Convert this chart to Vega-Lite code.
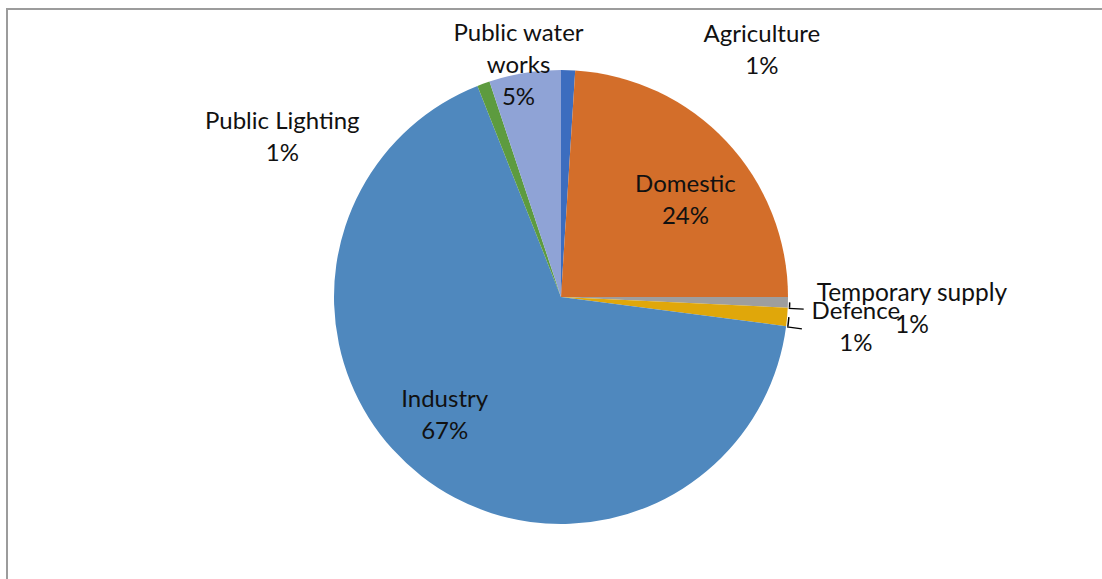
{
  "$schema": "https://vega.github.io/schema/vega-lite/v6.json",
  "width": 1108,
  "height": 576,
  "padding": {"left": 7, "top": 9, "right": -13, "bottom": -6},
  "autosize": {"type": "none"},
  "background": "white",
  "view": {"stroke": "#9c9c9c", "strokeWidth": 2},
  "config": {
    "view": {"stroke": "#9c9c9c", "strokeWidth": 2},
    "text": {"font": "Lato", "fontSize": 24, "lineHeight": 32, "fill": "#111111", "align": "center", "baseline": "middle"}
  },
  "data": {
    "values": [
      {"category": "Agriculture", "share": 0.010},
      {"category": "Domestic", "share": 0.240},
      {"category": "Temporary supply", "share": 0.0075},
      {"category": "Defence", "share": 0.013},
      {"category": "Industry", "share": 0.6695},
      {"category": "Public Lighting", "share": 0.009},
      {"category": "Public water works", "share": 0.051}
    ]
  },
  "transform": [
    {"window": [{"op": "row_number", "as": "k"}]},
    {"stack": "share", "groupby": [], "sort": [{"field": "k", "order": "ascending"}], "as": ["s0", "s1"]},
    {"calculate": "(datum.s0 + datum.s1) / 2", "as": "mid"},
    {"calculate": "datum.category === 'Public water works' ? ['Public water', 'works', format(datum.share, '.0%')] : [datum.category, format(datum.share, '.0%')]", "as": "lines"}
  ],
  "layer": [
    {
      "transform": [{"filter": "datum.k === 1"}],
      "mark": {"type": "rect", "fill": null, "fillOpacity": 0, "stroke": "#9c9c9c", "strokeWidth": 2},
      "encoding": {}
    },
    {
      "mark": {"type": "arc", "outerRadius": 227},
      "encoding": {
        "theta": {"field": "s0", "type": "quantitative", "scale": {"domain": [0, 1]}},
        "theta2": {"field": "s1"},
        "color": {
          "field": "category",
          "type": "nominal",
          "legend": null,
          "scale": {
            "domain": ["Agriculture", "Domestic", "Temporary supply", "Defence", "Industry", "Public Lighting", "Public water works"],
            "range": ["#3c6dbf", "#d36e2a", "#9e9e9e", "#e0a70a", "#4f88be", "#5d9b3f", "#8fa3d6"]
          }
        }
      }
    },
    {
      "transform": [{"filter": "datum.category === 'Temporary supply' || datum.category === 'Defence'"}],
      "mark": {"type": "arc", "innerRadius": 228, "outerRadius": 243, "theta2Offset": 0.0055, "fill": "#000000"},
      "encoding": {
        "theta": {"field": "s1", "type": "quantitative"},
        "theta2": {"field": "s1"}
      }
    },
    {
      "transform": [{"filter": "datum.category === 'Temporary supply' || datum.category === 'Defence'"}],
      "mark": {"type": "arc", "innerRadius": 228, "outerRadius": 229.5, "fill": "#000000"},
      "encoding": {
        "theta": {"field": "mid", "type": "quantitative"},
        "theta2": {"field": "s1"}
      }
    },
    {
      "transform": [{"filter": "datum.category === 'Domestic'"}],
      "mark": {"type": "text", "radius": 157, "dx": 10, "dy": -5},
      "encoding": {"theta": {"field": "mid", "type": "quantitative"}, "text": {"field": "lines"}}
    },
    {
      "transform": [{"filter": "datum.category === 'Industry'"}],
      "mark": {"type": "text", "radius": 165, "dx": -15, "dy": -27},
      "encoding": {"theta": {"field": "mid", "type": "quantitative"}, "text": {"field": "lines"}}
    },
    {
      "transform": [{"filter": "datum.category === 'Agriculture'"}],
      "mark": {"type": "text", "radius": 252, "dx": 193, "dy": -10},
      "encoding": {"theta": {"field": "mid", "type": "quantitative"}, "text": {"field": "lines"}}
    },
    {
      "transform": [{"filter": "datum.category === 'Public water works'"}],
      "mark": {"type": "text", "radius": 235, "dx": -5, "dy": -31},
      "encoding": {"theta": {"field": "mid", "type": "quantitative"}, "text": {"field": "lines"}}
    },
    {
      "transform": [{"filter": "datum.category === 'Public Lighting'"}],
      "mark": {"type": "text", "radius": 245, "dx": -195, "dy": 55},
      "encoding": {"theta": {"field": "mid", "type": "quantitative"}, "text": {"field": "lines"}}
    },
    {
      "transform": [{"filter": "datum.category === 'Temporary supply'"}],
      "mark": {"type": "text", "radius": 351, "dx": 0, "dy": -11, "fontSize": 24.5},
      "encoding": {"theta": {"field": "mid", "type": "quantitative"}, "text": {"field": "lines"}}
    },
    {
      "transform": [{"filter": "datum.category === 'Defence'"}],
      "mark": {"type": "text", "radius": 296, "dx": 0, "dy": -11},
      "encoding": {"theta": {"field": "mid", "type": "quantitative"}, "text": {"field": "lines"}}
    }
  ]
}
